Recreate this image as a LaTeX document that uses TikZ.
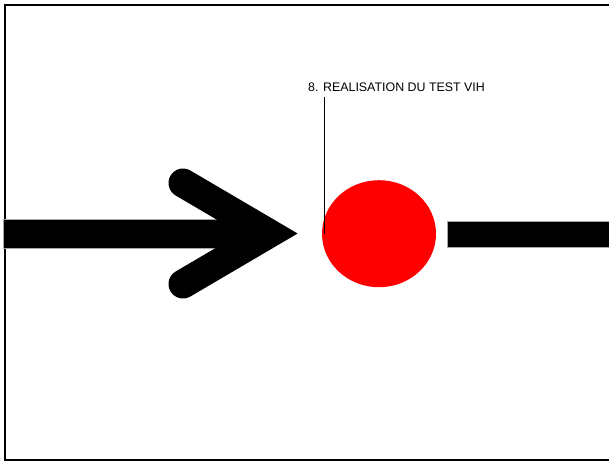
\documentclass[tikz,border=0pt]{standalone}
\usepackage{fontspec}
\setmainfont{Liberation Sans}
\usetikzlibrary{shapes.geometric}
\tikzset{
  frame/.style={draw=black, line width=2pt},
  bar/.style={fill=black, draw=gray!70, line width=0.6pt},
  chevron/.style={draw=black, line width=29pt, line cap=round, line join=miter},
  disc/.style={ellipse, fill=red, draw=none, inner sep=0pt, minimum width=114pt, minimum height=107pt},
  caption/.style={font=\fontsize{12.4}{14}\selectfont, inner sep=0pt},
  pinline/.style={draw=black, line width=0.8pt}
}
\begin{document}
\begin{tikzpicture}[x=1pt,y=-1pt]
\useasboundingbox (0,0) rectangle (609,461);
\clip (0,0) rectangle (609,461);
\draw[frame] (5,5) rectangle (620,460);
% left shaft
\fill[bar] (3,219) rectangle (250,248);
\fill[black] (240,219.3) rectangle (270,247.7);
% arrow head
\draw[chevron] (183,183) -- (269,233.5) -- (183,284);
% red disc
\node[disc] (dot) at (379,233.7) {};
% right bar
\fill[bar] (447,221) rectangle (620,247);
% label
\node[caption, anchor=base west] (lbl) at (308,91) {8. REALISATION DU TEST VIH};
\coordinate (top) at (324,97);
\coordinate (bot) at (324,233.5);
\draw[pinline] (top) -- (bot);
\end{tikzpicture}
\end{document}
